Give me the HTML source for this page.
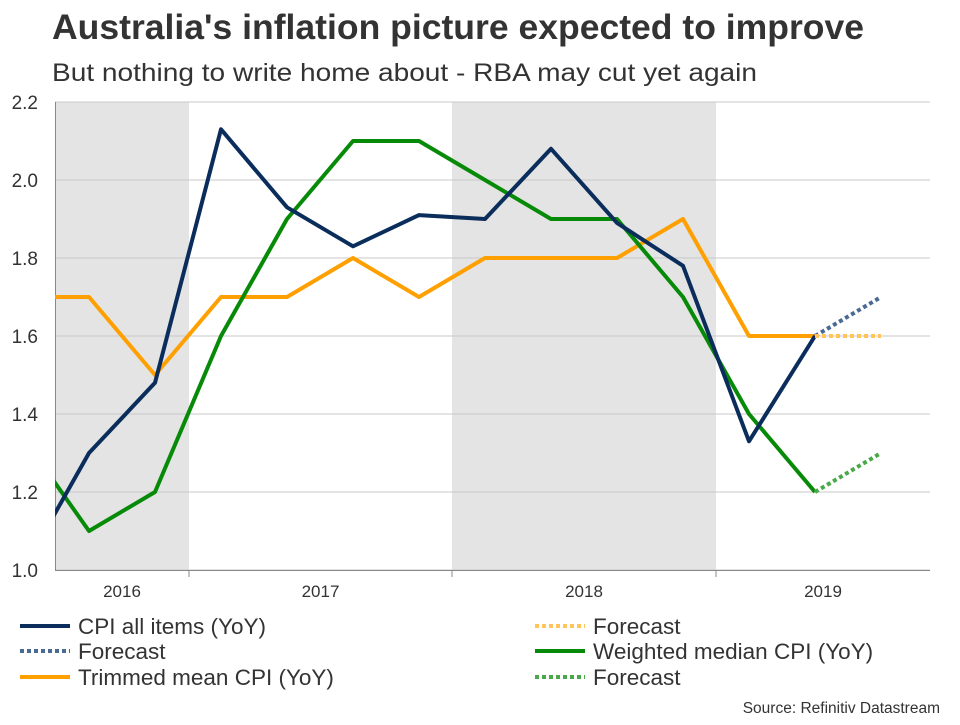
<!DOCTYPE html>
<html><head><meta charset="utf-8"><style>
body{margin:0;background:#fff;font-family:"Liberation Sans",Arial,sans-serif;}
svg text{font-family:"Liberation Sans",Arial,sans-serif;}
</style></head><body>
<svg id="chart" width="960" height="720" viewBox="0 0 960 720">
<text x="52" y="39" font-size="35" font-weight="bold" fill="#333" textLength="812" lengthAdjust="spacingAndGlyphs">Australia's inflation picture expected to improve</text>
<text x="52" y="81" font-size="25" fill="#333" textLength="705" lengthAdjust="spacingAndGlyphs">But nothing to write home about - RBA may cut yet again</text>
<defs><clipPath id="plotclip"><rect x="55" y="95" width="876" height="480"/></clipPath></defs>
<g id="bands"></g><g id="grid"></g><g id="axes"></g><g id="series" clip-path="url(#plotclip)"></g><g id="legend"></g>
<text x="940" y="713" font-size="15.5" fill="#333" text-anchor="end">Source: Refinitiv Datastream</text>
</svg>
<script>
const quarters=["2016Q2","2016Q3","2016Q4","2017Q1","2017Q2","2017Q3","2017Q4","2018Q1","2018Q2","2018Q3","2018Q4","2019Q1","2019Q2"];
const cpi=[1.0,1.3,1.48,2.13,1.93,1.83,1.91,1.9,2.08,1.89,1.78,1.33,1.6];
const cpiForecast=[1.6,1.7];
const trimmed=[1.7,1.7,1.5,1.7,1.7,1.8,1.7,1.8,1.8,1.8,1.9,1.6,1.6];
const trimmedForecast=[1.6,1.6];
const weighted=[1.34,1.1,1.2,1.6,1.9,2.1,2.1,2.0,1.9,1.9,1.7,1.4,1.2];
const weightedForecast=[1.2,1.3];
const yTicks=[1.0,1.2,1.4,1.6,1.8,2.0,2.2];
const years=["2016","2017","2018","2019"];
const NS="http://www.w3.org/2000/svg";
const x=i=>23+i*66;
const y=v=>570-(v-1.0)*390;
function mk(tag,attrs,parent){const e=document.createElementNS(NS,tag);for(const k in attrs)e.setAttribute(k,attrs[k]);document.getElementById(parent).appendChild(e);return e;}
const yearStart=[55,189,452,716],yearEnd=[189,452,716,930];
[0,2].forEach(k=>{const r=mk('rect',{x:yearStart[k],y:y(2.2),width:yearEnd[k]-yearStart[k],height:y(1.0)-y(2.2),fill:'#e4e4e4'},'bands');

});
yTicks.forEach(t=>{const l=mk('line',{x1:55,x2:930,y1:y(t),y2:y(t),stroke:'#c8c8c8','stroke-width':1},'grid');


const tx=mk('text',{x:38,y:y(t)+7,'font-size':19,fill:'#333','text-anchor':'end'},'axes');tx.textContent=t.toFixed(1);

});
const ax=mk('line',{x1:55,x2:930,y1:570.5,y2:570.5,stroke:'#888','stroke-width':1},'axes');


const ay=mk('line',{x1:55.5,x2:55.5,y1:y(2.2),y2:570,stroke:'#888','stroke-width':1},'axes');


years.forEach((yr,k)=>{if(k>0){const t=mk('line',{x1:yearStart[k],x2:yearStart[k],y1:570,y2:577,stroke:'#888'},'axes');

}
const tx=mk('text',{x:(yearStart[k]+yearEnd[k])/2,y:597,'font-size':17,fill:'#333','text-anchor':'middle'},'axes');tx.textContent=yr;

});
function line(vals,start,color,dash,name){const pts=vals.map((v,i)=>x(i+start)+','+y(v)).join(' ');
const p=mk('polyline',{points:pts,fill:'none',stroke:color,'stroke-width':4,'stroke-linejoin':'round'},'series');
if(dash)p.setAttribute('stroke-dasharray','4 3');

}
const last=quarters.length-1;
line(trimmed,0,'#ffa000',null,'trimmed-mean-line');
line(weighted,0,'#078a07',null,'weighted-median-line');
line(cpi,0,'#0a2d5c',null,'cpi-line');
line(cpiForecast,last,'#4a6a96',true,'cpi-forecast-line');
line(trimmedForecast,last,'#ffc55a',true,'trimmed-forecast-line');
line(weightedForecast,last,'#4aa84a',true,'weighted-forecast-line');
const leg=[[20,626,'#0a2d5c',0,'CPI all items (YoY)'],[20,651,'#4a6a96',1,'Forecast'],[20,677,'#ffa000',0,'Trimmed mean CPI (YoY)'],
[535,626,'#ffc55a',1,'Forecast'],[535,651,'#078a07',0,'Weighted median CPI (YoY)'],[535,677,'#4aa84a',1,'Forecast']];
leg.forEach(([lx,ly,c,d,t])=>{const l=mk('line',{x1:lx,x2:lx+50,y1:ly,y2:ly,stroke:c,'stroke-width':4},'legend');if(d)l.setAttribute('stroke-dasharray','4 3');


const tx=mk('text',{x:lx+58,y:ly+8,'font-size':22.5,fill:'#333'},'legend');tx.textContent=t;

});
</script>
</body></html>
